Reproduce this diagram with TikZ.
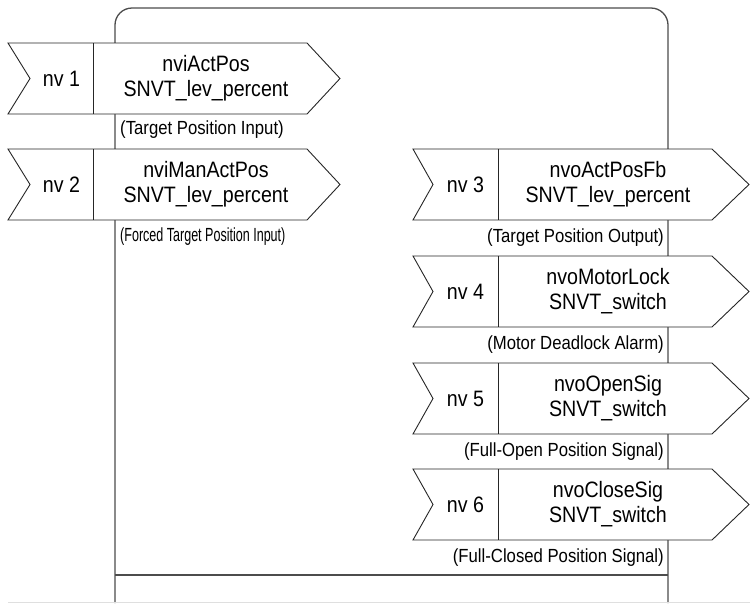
\documentclass[tikz,border=0pt]{standalone}
\usepackage{fontspec}
\setmainfont{Liberation Sans}[FakeStretch=0.88]
\usetikzlibrary{positioning}

\begin{document}
\begin{tikzpicture}[x=1pt,y=-1pt,
	frame/.style={line width=1.3pt,draw=black!70},
	nvbox/.style={line width=0.9pt,draw=black!85,fill=white},
	num/.style={font=\fontsize{22.3}{25}\selectfont},
	var/.style={font=\fontsize{22.3}{25}\selectfont,align=center},
	note/.style={font=\fontsize{19}{20}\selectfont,inner sep=0pt}]
\useasboundingbox (0,0) rectangle (750,603);
% device frame
\draw[frame,rounded corners=17pt] (115,603) -- (115,8) -- (668,8) -- (668,603);
\draw[frame] (115,575) -- (668,575);
\draw[gray!25,line width=0.8pt] (8,602) -- (750,602);
% inputs
\foreach \n/\t/\name/\type in {1/43/nviActPos/SNVT\_lev\_percent,2/149/nviManActPos/SNVT\_lev\_percent}{
	\draw[nvbox] (8,\t) -- (307,\t) -- (340,\t+35.5) -- (307,\t+71) -- (8,\t+71) -- (30,\t+35.5) -- cycle;
	\draw[nvbox] (93,\t) -- (93,\t+71);
	\node[num](num\n) at (61.5,\t+35.5) {nv \n};
	\node[var](var\n) at (206,\t+35.5) {\name\\\type};
}
\node[note,anchor=west](note1) at (120,130) {(Target Position Input)};
\node[note,anchor=west](note2) at (120,237) {\scalebox{0.75}[1]{(Forced Target Position Input)}};
% outputs
\foreach \n/\t/\name/\type/\desc in {3/149/nvoActPosFb/SNVT\_lev\_percent/(Target Position Output),
	4/256/nvoMotorLock/SNVT\_switch/(Motor Deadlock Alarm),
	5/363/nvoOpenSig/SNVT\_switch/(Full-Open Position Signal),
	6/469/nvoCloseSig/SNVT\_switch/(Full-Closed Position Signal)}{
	\draw[nvbox] (413,\t) -- (712,\t) -- (749,\t+35.5) -- (712,\t+71) -- (413,\t+71) -- (433,\t+35.5) -- cycle;
	\draw[nvbox] (498,\t) -- (498,\t+71);
	\node[num](num\n) at (465.5,\t+35.5) {nv \n};
	\node[var](var\n) at (608,\t+35.5) {\name\\\type};
	\node[note,anchor=east](note\n) at (664,\t+89) {\desc};
}
\end{tikzpicture}
\end{document}
